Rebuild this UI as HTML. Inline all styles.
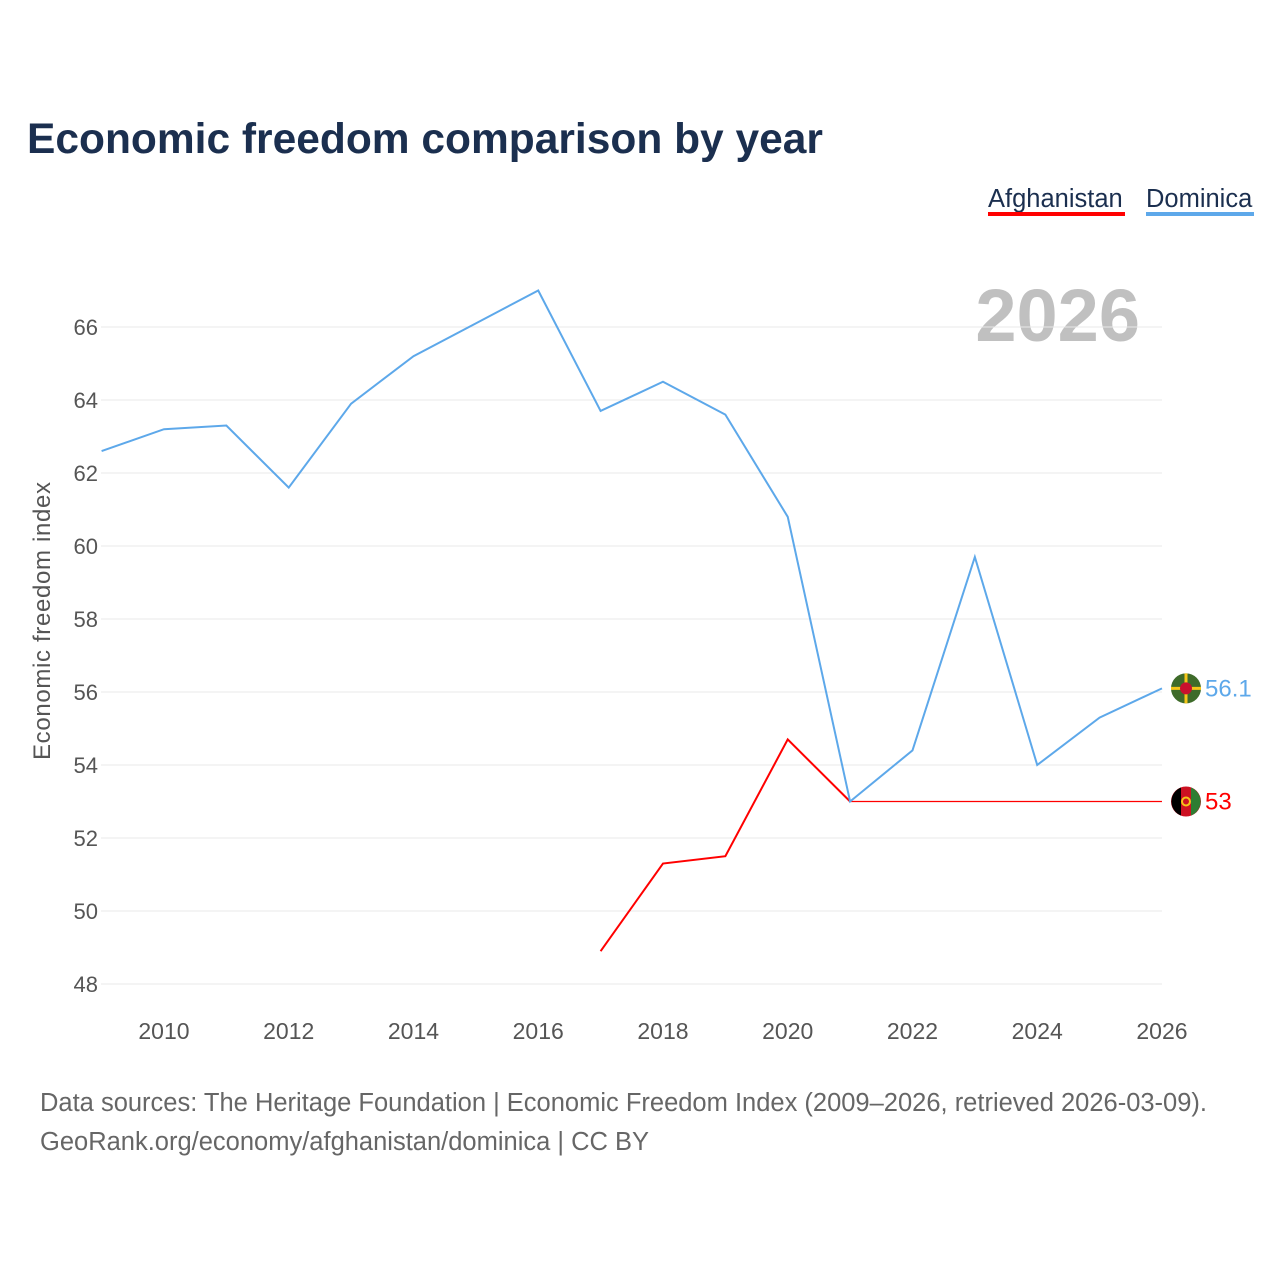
<!DOCTYPE html>
<html><head><meta charset="utf-8"><style>
body{margin:0;background:#fff;font-family:"Liberation Sans",sans-serif;}
</style></head><body>
<svg width="1280" height="1280" xmlns="http://www.w3.org/2000/svg">
<text x="27" y="153" font-size="42.5" font-weight="bold" fill="#1b2f4f">Economic freedom comparison by year</text>
<g><text x="988" y="207" font-size="25.5" fill="#1b2f4f">Afghanistan</text><rect x="988" y="212" width="137" height="4" fill="#ff0000"/></g>
<g><text x="1146" y="207" font-size="25.5" fill="#1b2f4f">Dominica</text><rect x="1146" y="212" width="108" height="4" fill="#5da8ea"/></g>
<text x="1140" y="341" font-size="74" font-weight="bold" fill="#c0c0c0" text-anchor="end">2026</text>
<g id="grid"></g><g id="yt"></g><g id="xt"></g><g id="series"></g>
<text transform="translate(50,621) rotate(-90)" font-size="24" fill="#555" text-anchor="middle" textLength="278">Economic freedom index</text>
<text x="40" y="1111" font-size="25.5" fill="#666" textLength="1167">Data sources: The Heritage Foundation | Economic Freedom Index (2009–2026, retrieved 2026-03-09).</text>
<text x="40" y="1150" font-size="25.5" fill="#666">GeoRank.org/economy/afghanistan/dominica | CC BY</text>
</svg>
<script>
const years=[2009,2010,2011,2012,2013,2014,2015,2016,2017,2018,2019,2020,2021,2022,2023,2024,2025,2026];
const dominica=[62.6,63.2,63.3,61.6,63.9,65.2,66.1,67.0,63.7,64.5,63.6,60.8,53.0,54.4,59.7,54.0,55.3,56.1];
const afgYears=[2017,2018,2019,2020,2021];
const afghanistan=[48.9,51.3,51.5,54.7,53.0];
const afgCarryYears=[2021,2026];
const afgCarry=[53.0,53.0];
const yTicks=[48,50,52,54,56,58,60,62,64,66];
const xTicks=[2010,2012,2014,2016,2018,2020,2022,2024,2026];
const NS="http://www.w3.org/2000/svg";
const X=y=>101.6+(y-2009)*62.375;
const Y=v=>984-(v-48)*36.5;
function mk(t,a,p){const e=document.createElementNS(NS,t);for(const k in a)e.setAttribute(k,a[k]);document.getElementById(p).appendChild(e);return e;}
yTicks.forEach(v=>{
 const l=mk('line',{x1:101,x2:1162,y1:Y(v),y2:Y(v),stroke:'#e8e8e8','stroke-width':1},'grid');
 
 
 const t=mk('text',{x:98,y:Y(v)+8,'font-size':22,fill:'#555','text-anchor':'end'},'yt');t.textContent=v;
 
 
});
xTicks.forEach(v=>{
 const t=mk('text',{x:X(v),y:1039,'font-size':23,fill:'#555','text-anchor':'middle'},'xt');t.textContent=v;
 
 
});
function line(xs,vs,c,w,name){
 const p=mk('polyline',{points:xs.map((x,i)=>X(x)+','+Y(vs[i])).join(' '),fill:'none',stroke:c,'stroke-width':w},'series');
 
 
}
line(afgCarryYears,afgCarry,'#ff0000',1.2,'afghanistan-carry-line');
line(afgYears,afghanistan,'#ff0000',2,'afghanistan-line');
line(years,dominica,'#5da8ea',2,'dominica-line');
function end(v,c,name,label){
 const cx=1186,cy=Y(v);
 const g=mk('circle',{cx:cx,cy:cy,r:15,fill:name==='dominica'?'#3e6b2a':'#cc1122'},'series');
 
 
 if(name==='dominica'){mk('path',{d:`M${cx-15} ${cy}H${cx+15}M${cx} ${cy-15}V${cy+15}`,stroke:'#f5c518','stroke-width':3},'series');mk('circle',{cx:cx,cy:cy,r:6,fill:'#c8102e'},'series');}
 else{mk('path',{d:`M${cx-5} ${cy-14}A15 15 0 0 0 ${cx-5} ${cy+14}Z`,fill:'#000'},'series');mk('path',{d:`M${cx+5} ${cy-14}A15 15 0 0 1 ${cx+5} ${cy+14}Z`,fill:'#2e7d32'},'series');mk('circle',{cx:cx,cy:cy,r:4,fill:'none',stroke:'#f5c518','stroke-width':2},'series');}
 const t=mk('text',{x:1205,y:cy+8,'font-size':24,fill:c},'series');t.textContent=label;
 
 
}
end(dominica[dominica.length-1],'#5da8ea','dominica',String(dominica[dominica.length-1]));
end(afgCarry[afgCarry.length-1],'#ff0000','afghanistan','53');
</script>
</body></html>
